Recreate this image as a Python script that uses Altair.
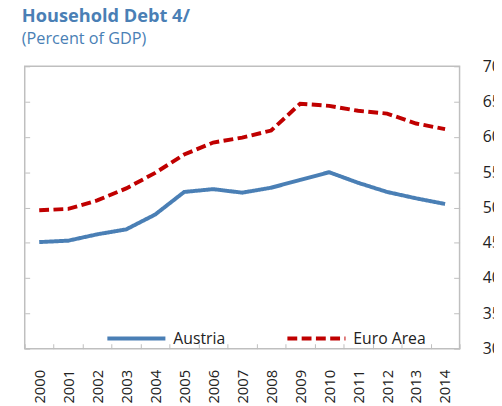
import altair as alt
import pandas as pd

years = ["2000", "2001", "2002", "2003", "2004", "2005", "2006", "2007",
         "2008", "2009", "2010", "2011", "2012", "2013", "2014"]
austria = [45.1, 45.3, 46.2, 46.9, 49.0, 52.2, 52.6, 52.1, 52.8, 53.9,
           55.0, 53.5, 52.2, 51.3, 50.5]
euro_area = [49.6, 49.8, 51.0, 52.7, 54.9, 57.5, 59.2, 59.9, 60.9, 64.7,
             64.4, 63.7, 63.3, 61.9, 61.1]
series_names = ["Austria", "Euro Area"]
y_ticks = [30, 35, 40, 45, 50, 55, 60, 65, 70]

rows = []
for name, vals in zip(series_names, [austria, euro_area]):
    for yr, v in zip(years, vals):
        rows.append({"year": yr, "value": v, "series": name})
df = pd.DataFrame(rows)

BLUE = "#4A7FB5"
RED = "#C00000"
GRAY = "#BFBFBF"
FONT = "Open Sans"

x_scale = alt.Scale(type="band", paddingInner=0, paddingOuter=0)
x_axis = alt.Axis(
    title=None, orient="bottom", offset=-5, tickSize=5, tickBand="extent",
    domain=False, labelAngle=-90, labelPadding=21, labelFontSize=15,
    labelColor="#222222", tickColor=GRAY, labelFont=FONT,
    labelBaseline="middle", labelAlign="right",
)
x_enc = alt.X("year:O", sort=years, bandPosition=0.5, scale=x_scale, axis=x_axis)
y_scale = alt.Scale(domain=[30, 70], nice=False, zero=False)

legend = alt.Legend(
    orient="none", legendX=82, legendY=245, direction="horizontal",
    title=None, symbolType="stroke", symbolSize=3481,
    symbolStrokeWidth=4, labelFontSize=16, labelOffset=6,
    columnPadding=55, padding=0, labelFont=FONT, labelColor="#222222",
)

lines = alt.Chart(df).mark_line(strokeWidth=4).encode(
    x=x_enc,
    y=alt.Y(
        "value:Q", scale=y_scale,
        axis=alt.Axis(title=None, orient="left", offset=-5, tickSize=5,
                      labels=False, domain=False, grid=False, values=y_ticks,
                      tickColor=GRAY),
    ),
    color=alt.Color(
        "series:N",
        scale=alt.Scale(domain=series_names, range=[BLUE, RED]),
        legend=legend,
    ),
    strokeDash=alt.StrokeDash(
        "series:N",
        scale=alt.Scale(domain=series_names, range=[[1, 0], [10, 4.5]]),
        legend=legend,
    ),
)

right = alt.Chart(df).mark_line(opacity=0).encode(
    x=x_enc,
    y=alt.Y(
        "value:Q", scale=y_scale,
        axis=alt.Axis(title=None, orient="right", offset=-6, tickSize=6,
                      labelPadding=23, domain=False, grid=False,
                      values=y_ticks, labelFontSize=16, labelColor="#222222",
                      tickColor=GRAY, labelFont=FONT),
    ),
    detail="series:N",
)

chart = alt.layer(lines, right).resolve_axis(y="independent").properties(
    width=442,
    height=287,
    autosize=alt.AutoSizeParams(type="none"),
    padding={"left": 17, "top": 56, "right": 35, "bottom": 55},
    title=alt.TitleParams(
        text="Household Debt 4/",
        subtitle="(Percent of GDP)",
        anchor="start",
        frame="group",
        dx=-3,
        offset=11,
        font=FONT,
        fontSize=18.5,
        fontWeight="bold",
        color=BLUE,
        subtitleFont=FONT,
        subtitleFontSize=16.5,
        subtitleColor=BLUE,
        subtitlePadding=6,
    ),
).configure_view(stroke=GRAY, strokeWidth=1.5).configure_axis(grid=False)

chart.save("out.html", embed_options={"renderer": "svg", "actions": False})
